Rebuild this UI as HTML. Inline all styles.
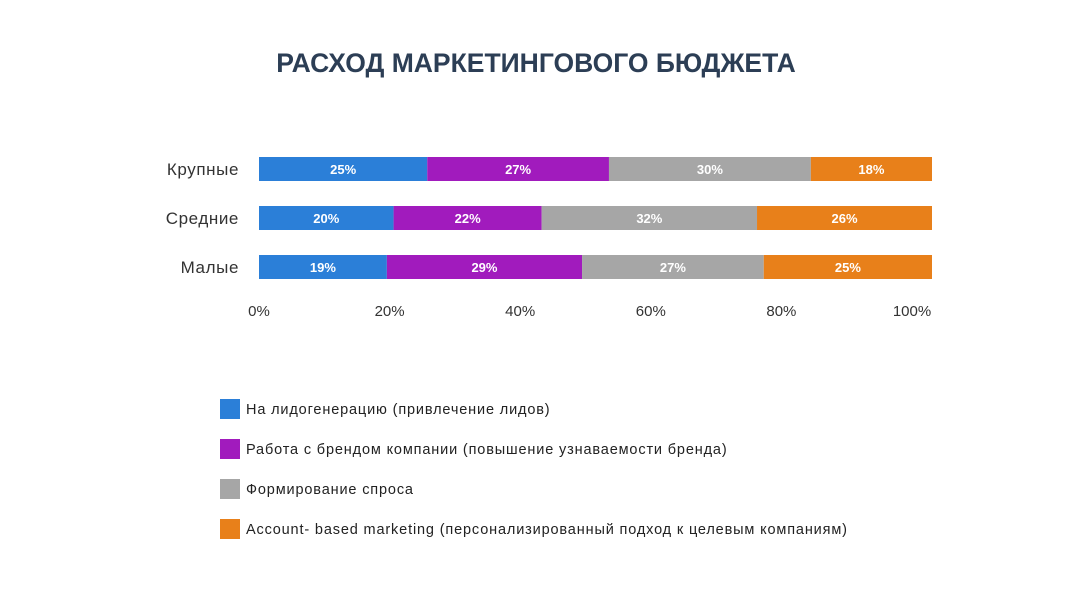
<!DOCTYPE html>
<html><head><meta charset="utf-8"><style>
body{margin:0;width:1072px;height:586px;background:#fff;font-family:"Liberation Sans",sans-serif;overflow:hidden}
svg text{font-family:"Liberation Sans",sans-serif}
</style></head><body>
<svg id="c" width="1072" height="586">
<text x="536" y="72" text-anchor="middle" font-size="26.5" font-weight="bold" fill="#2c3e55">РАСХОД МАРКЕТИНГОВОГО БЮДЖЕТА</text>
</svg>
<script>
const categories=["Крупные","Средние","Малые"];
const leads=[25,20,19];
const brand=[27,22,29];
const demand=[30,32,27];
const abm=[18,26,25];
const ticks=[0,20,40,60,80,100];
const seriesNames=["На лидогенерацию (привлечение лидов)","Работа с брендом компании (повышение узнаваемости бренда)","Формирование спроса","Account- based marketing (персонализированный подход к целевым компаниям)"];
const colors=["#2b7fd8","#a11bbd","#a6a6a6","#e8801a"];
const series=[leads,brand,demand,abm];
const svg=document.getElementById('c');
const NS='http://www.w3.org/2000/svg';
const x0=259,x1=932;
const yRow=i=>157+i*49;
const axisX=v=>259+v*6.53;
function mk(t,a){const e=document.createElementNS(NS,t);for(const k in a)e.setAttribute(k,a[k]);svg.appendChild(e);return e;}
categories.forEach((cat,i)=>{
  const y=yRow(i);
  const l=mk('text',{x:239,y:y+18,'text-anchor':'end','font-size':17,'letter-spacing':0.6,fill:'#333'});
  l.textContent=cat;
  
  
  const total=series.reduce((s,a)=>s+a[i],0);
  let acc=0;
  series.forEach((arr,j)=>{
    const xa=x0+(x1-x0)*acc/total;acc+=arr[i];
    const xb=x0+(x1-x0)*acc/total;
    const r=mk('rect',{x:xa,y:y,width:xb-xa,height:24,fill:colors[j]});
    
    
    const t=mk('text',{x:(xa+xb)/2,y:y+17,'text-anchor':'middle','font-size':13,'font-weight':'bold',fill:'#fff'});
    t.textContent=arr[i]+'%';
    
    
  });
});
ticks.forEach(v=>{
  const t=mk('text',{x:axisX(v),y:316,'text-anchor':'middle','font-size':15,fill:'#333'});
  t.textContent=v+'%';
  
  
});
seriesNames.forEach((n,j)=>{
  const y=399+j*40;
  const r=mk('rect',{x:220,y:y,width:20,height:20,fill:colors[j]});
  
  
  const t=mk('text',{x:246,y:y+15,'font-size':14.5,'letter-spacing':0.85,fill:'#222'});
  t.textContent=n;
  
  
});
</script>
</body></html>
